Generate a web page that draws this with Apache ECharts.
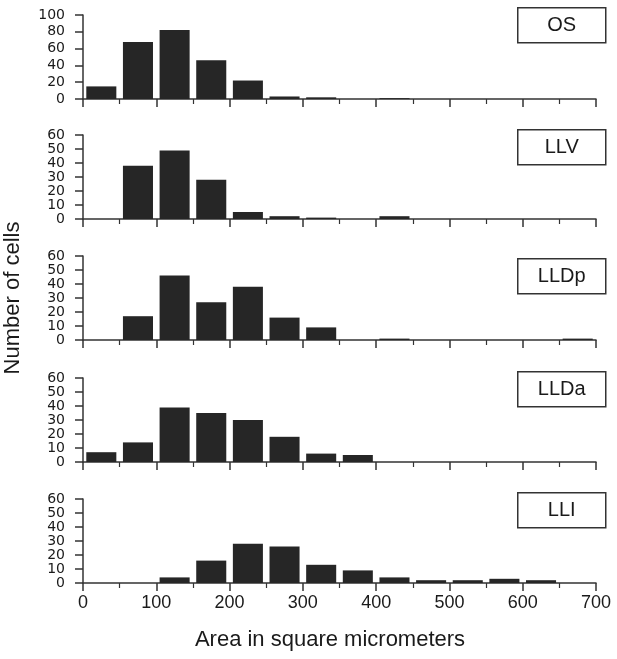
<!DOCTYPE html>
<html><head><meta charset="utf-8">
<script src="https://cdn.jsdelivr.net/npm/echarts@6/dist/echarts.min.js"></script>
<style>html,body{margin:0;padding:0;background:#fff}#c{width:617px;height:659px}</style>
</head><body><div id="c"></div>
<script>
// Histogram bins (square micrometers), width 50
const binStarts = [0,50,100,150,200,250,300,350,400,450,500,550,600,650];
const panelNames = ['OS','LLV','LLDp','LLDa','LLI'];
const osCounts   = [15,68,82,46,22,3,2,0,1,0,0,0,0,0];
const llvCounts  = [0,38,49,28,5,2,1,0,2,0,0,0,0,0];
const lldpCounts = [0,17,46,27,38,16,9,0,1,0,0,0,0,1];
const lldaCounts = [7,14,39,35,30,18,6,5,0,0,0,0,0,0];
const lliCounts  = [0,0,4,16,28,26,13,9,4,2,2,3,2,0];
const yMaxes = [100,60,60,60,60];
const yIntervals = [20,10,10,10,10];
const xMin = 0, xMax = 700, xInterval = 100;
const xTitle = 'Area in square micrometers';
const yTitle = 'Number of cells';

const allCounts = [osCounts, llvCounts, lldpCounts, lldaCounts, lliCounts];
const gridTops = [15, 135, 256, 378, 499];
const boxTops = [7, 129, 258, 371, 492];
const axisColor = '#333';
const textColor = '#1a1a1a';

const grids = [], xAxes = [], yAxes = [], series = [], graphics = [];
allCounts.forEach((counts, i) => {
  grids.push({left: 83, right: 21, top: gridTops[i], height: 84, containLabel: false});
  // hidden category axis for bins
  xAxes.push({
    type: 'category', gridIndex: i, position: 'bottom', data: binStarts.map(String), show: false, boundaryGap: true
  });
  // visible value axis for ticks and labels
  xAxes.push({
    type: 'value', gridIndex: i, position: 'bottom', min: xMin, max: xMax, interval: xInterval,
    axisLine: {show: true, onZero: false, lineStyle: {color: axisColor, width: 1.5}},
    axisTick: {show: true, length: 8, lineStyle: {color: axisColor, width: 1.5}},
    minorTick: {show: true, splitNumber: 2, length: 5, lineStyle: {color: axisColor, width: 1.2}},
    splitLine: {show: false},
    axisLabel: {show: i === allCounts.length - 1, fontSize: 18, fontFamily: 'Liberation Sans', color: textColor, margin: 11}
  });
  yAxes.push({
    type: 'value', gridIndex: i, min: 0, max: yMaxes[i], interval: yIntervals[i],
    axisLine: {show: true, lineStyle: {color: axisColor, width: 1.5}},
    axisTick: {show: true, length: 8, lineStyle: {color: axisColor, width: 1.5}},
    splitLine: {show: false},
    axisLabel: {fontSize: 14, fontFamily: 'DejaVu Sans', color: textColor, margin: 18}
  });
  series.push({
    type: 'bar', name: panelNames[i], xAxisIndex: i * 2, yAxisIndex: i,
    data: counts, barCategoryGap: '18%',
    itemStyle: {color: '#262626'}, silent: true
  });
  graphics.push({
    type: 'group', left: 517, top: boxTops[i],
    children: [
      {type: 'rect', shape: {x: 0, y: 0, width: 88, height: 35},
       style: {fill: '#fff', stroke: axisColor, lineWidth: 1.5}},
      {type: 'text', x: 44, y: 18,
       style: {text: panelNames[i], fill: textColor, font: '20px "Liberation Sans"', textAlign: 'center', textVerticalAlign: 'middle'}}
    ]
  });
});
graphics.push({type: 'text', x: 330, y: 640,
  style: {text: xTitle, fill: textColor, font: '22px "Liberation Sans"', textAlign: 'center', textVerticalAlign: 'middle'}});
graphics.push({type: 'text', x: 13, y: 298, rotation: Math.PI / 2,
  style: {text: yTitle, fill: textColor, font: '22px "Liberation Sans"', textAlign: 'center', textVerticalAlign: 'middle'}});

const chart = echarts.init(document.getElementById('c'), null, {renderer: 'canvas'});
chart.setOption({
  animation: false,
  backgroundColor: '#fff',
  grid: grids, xAxis: xAxes, yAxis: yAxes, series: series, graphic: graphics
});
</script></body></html>
